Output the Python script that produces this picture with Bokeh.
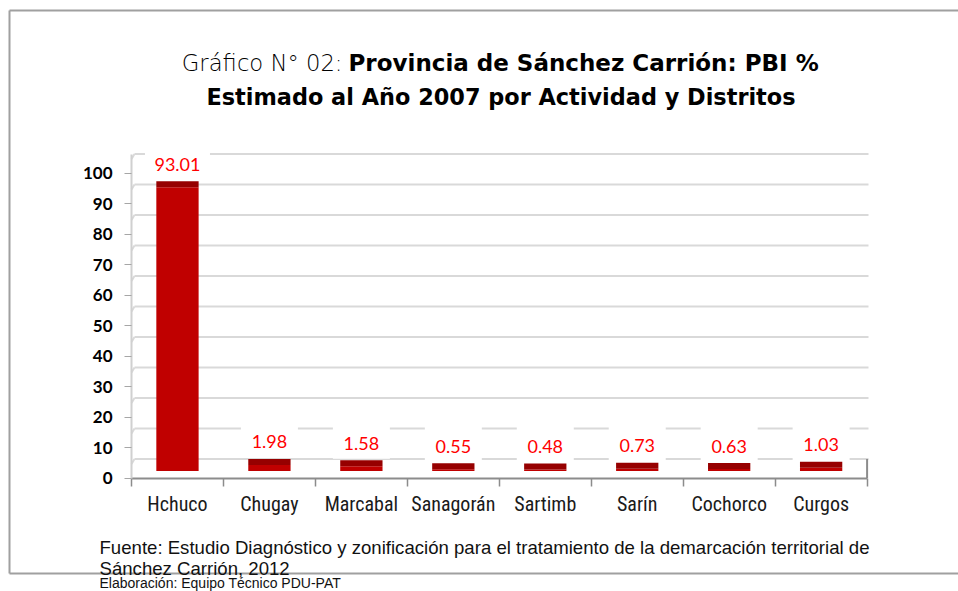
from bokeh.plotting import figure
from bokeh.models import Range1d, LinearAxis, FixedTicker, ColumnDataSource
from bokeh.core.properties import value
from bokeh.embed import file_html
from bokeh.resources import INLINE

# ---------------- data ----------------
categories = ["Hchuco", "Chugay", "Marcabal", "Sanagorán", "Sartimb", "Sarín", "Cochorco", "Curgos"]
pbi_values = [93.01, 1.98, 1.58, 0.55, 0.48, 0.73, 0.63, 1.03]
y_ticks = [0, 10, 20, 30, 40, 50, 60, 70, 80, 90, 100]
title_light = "Gráfico N° 02:"
title_bold_1 = "Provincia de Sánchez Carrión: PBI %"
title_bold_2 = "Estimado al Año 2007 por Actividad y Distritos"
source_lines = [
    "Fuente: Estudio Diagnóstico y zonificación para el tratamiento de la demarcación territorial de",
    "Sánchez Carrión, 2012",
    "Elaboración: Equipo Técnico PDU-PAT",
]

# ---------------- geometry / style ----------------
W, H = 958, 591
CAT = 91.95        # pixels per category
PX = 3.05          # pixels per value unit
AX_X = 131.0       # pixel x of the left category boundary
AX_Y = 477.5       # pixel y of value 0
n = len(categories)
x_start = -0.5 - AX_X / CAT
x_end = x_start + W / CAT
y_end = AX_Y / PX
y_start = y_end - H / PX


def X(px):
    return x_start + px / CAT


def Y(py):
    return (AX_Y - py) / PX


back = 19 / PX     # depth offset of back wall
base = 7 / PX      # bar front plane offset
cap = 6 / PX       # bar top face thickness

p = figure(width=W, height=H, x_range=Range1d(x_start, x_end), y_range=Range1d(y_start, y_end),
           x_axis_type=None, y_axis_type=None, output_backend="svg", toolbar_location=None,
           min_border_left=0, min_border_right=0, min_border_top=0, min_border_bottom=0)
p.outline_line_color = None
p.background_fill_color = "white"
p.border_fill_color = "white"
p.xgrid.visible = False
p.ygrid.visible = False

# outer document frame
p.segment(x0=[X(9), X(9), X(9)], y0=[Y(10), Y(10), Y(573)],
          x1=[X(9), X(960), X(960)], y1=[Y(573), Y(10), Y(573)],
          line_color="#a0a0a0", line_width=2)

# back-wall gridlines
gx0 = -0.5 + 3 / CAT
gx1 = X(868)
p.segment(x0=[gx0] * len(y_ticks), y0=[t + back for t in y_ticks],
          x1=[gx1] * len(y_ticks), y1=[t + back for t in y_ticks],
          line_color="#d9d9d9", line_width=2)
p.segment(x0=[-0.5] * len(y_ticks), y0=[t + back - 5 / PX for t in y_ticks],
          x1=[gx0] * len(y_ticks), y1=[t + back for t in y_ticks],
          line_color="#d9d9d9", line_width=2)
# right side wall of the floor
p.segment(x0=[n - 0.5], y0=[0], x1=[n - 0.5], y1=[back], line_color="#8c8c8c", line_width=2)

xs = list(range(n))
front_top = [v + base for v in pbi_values]
cap_top = [v + base + cap for v in pbi_values]
labels = [f"{v:.2f}" for v in pbi_values]
lab_y = [c + 17 / PX for c in cap_top]
src = ColumnDataSource(dict(
    x=xs, front_top=front_top, cap_top=cap_top,
    lab_y=lab_y, box_y=[ly + 2.25 / PX for ly in lab_y], lab=labels,
    lab_w=[8 * len(s) + 25 for s in labels],
))

# white label boxes
p.rect(x="x", y="box_y", width="lab_w", height=35.5, width_units="screen", height_units="screen",
       source=src, fill_color="white", line_color=None)
# bars (front face + top face)
p.vbar(x="x", width=0.46, bottom=base, top="front_top", source=src,
       fill_color="#c00000", line_color=None)
p.vbar(x="x", width=0.46, bottom="front_top", top="cap_top", source=src,
       fill_color="#960000", line_color=None)
p.text(x="x", y="lab_y", text="lab", source=src, text_align="center", text_baseline="middle",
       text_font=value("Lato"), text_font_size="18px", text_color="#ff0000")

# axes (fixed inside the plot area)
yaxis = LinearAxis(ticker=FixedTicker(ticks=y_ticks), bounds=(0, 100 + back), fixed_location=-0.5,
                   axis_line_color="#d0d0d0", axis_line_width=2,
                   major_tick_line_color="#a6a6a6", major_tick_out=7, major_tick_in=0,
                   minor_tick_line_color=None,
                   major_label_text_font="Lato", major_label_text_font_style="bold",
                   major_label_text_font_size="17px", major_label_standoff=12,
                   major_label_text_color="black")
p.add_layout(yaxis, "left")

xaxis = LinearAxis(ticker=FixedTicker(ticks=xs, minor_ticks=[i - 0.5 for i in range(n + 1)]),
                   bounds=(-0.5, n - 0.5), fixed_location=0,
                   major_label_overrides={i: c for i, c in enumerate(categories)},
                   major_tick_out=0, major_tick_in=0, major_tick_line_color=None,
                   minor_tick_out=8, minor_tick_in=0, minor_tick_line_color="#8c8c8c",
                   minor_tick_line_width=1.5,
                   axis_line_color="#8c8c8c", axis_line_width=2,
                   major_label_text_font="Roboto Condensed",
                   major_label_text_font_size="20px", major_label_standoff=6,
                   major_label_text_color="#1a1a1a")
p.add_layout(xaxis, "below")

# titles and source notes
p.text(x=[X(342)], y=[Y(62)], text=[title_light], text_align="right", text_baseline="alphabetic",
       text_font=value("DejaVu Sans Light"), text_font_size="22.7px", text_color="black")
p.text(x=[X(348)], y=[Y(62)], text=[title_bold_1], text_align="left", text_baseline="alphabetic",
       text_font=value("DejaVu Sans"), text_font_style="bold", text_font_size="23px",
       text_color="black")
p.text(x=[X(500.5)], y=[Y(96.7)], text=[title_bold_2], text_align="center",
       text_baseline="alphabetic", text_font=value("DejaVu Sans"), text_font_style="bold",
       text_font_size="22.4px", text_color="black")
p.text(x=[X(99)] * 2, y=[Y(546.7), Y(567.7)], text=source_lines[:2], text_align="left",
       text_baseline="alphabetic", text_font=value("Liberation Sans"), text_font_size="18.6px",
       text_color="#111111")
p.text(x=[X(99)], y=[Y(574.5)], text=source_lines[2:], text_align="left",
       text_baseline="top", text_font=value("Liberation Sans"), text_font_size="14px",
       text_color="#111111")

open("out.html", "w").write(file_html(p, INLINE))
